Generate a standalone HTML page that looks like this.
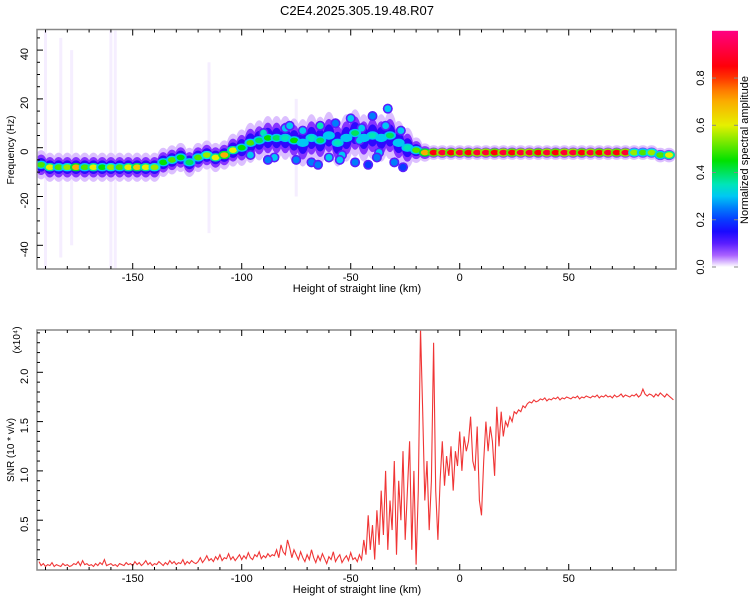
<!DOCTYPE html>
<html><head><meta charset="utf-8"><style>
body{margin:0;background:#fff;width:750px;height:600px;overflow:hidden;font-family:"Liberation Sans",sans-serif}
svg text{font-family:"Liberation Sans",sans-serif;fill:#000}
</style></head><body>
<svg id="c" width="750" height="600" xmlns="http://www.w3.org/2000/svg"></svg>
<script>
// ---- data ----
const title = "C2E4.2025.305.19.48.R07";
const xTicks = [-150,-100,-50,0,50];
const fTicks = [40,20,0,-20,-40];
const sTicks = [0.5,1.0,1.5,2.0];
const cTicks = [0.0,0.2,0.4,0.6,0.8];
const ridgeH = [-192,-188,-184,-180,-176,-172,-168,-164,-160,-156,-152,-148,-144,-140,-136,-132,-128,-124,-120,-116,-112,-108,-104,-100,-96,-92,-88,-84,-80,-76,-72,-68,-64,-60,-56,-52,-48,-44,-40,-36,-32,-28,-24,-20,-16,-12,-8,-4,0,4,8,12,16,20,24,28,32,36,40,44,48,52,56,60,64,68,72,76,80,84,88,92,96];
const ridgeF = [-7,-8,-8,-8,-8,-8,-8,-8,-8,-8,-8,-8,-8,-8,-6,-5,-4,-6,-4,-3,-4,-3,-1,0,2,3,4,4,4,3,2,4,3,5,2,4,6,4,5,4,5,2,0,-1,-2,-2,-2,-2,-2,-2,-2,-2,-2,-2,-2,-2,-2,-2,-2,-2,-2,-2,-2,-2,-2,-2,-2,-2,-2,-2,-2,-3,-3];
const ridgeA = [0.5,0.6,0.5,0.55,0.7,0.5,0.6,0.45,0.55,0.5,0.6,0.65,0.6,0.55,0.45,0.5,0.45,0.4,0.5,0.55,0.6,0.7,0.6,0.45,0.5,0.4,0.45,0.4,0.35,0.45,0.3,0.35,0.4,0.3,0.35,0.3,0.4,0.3,0.35,0.3,0.4,0.3,0.35,0.5,0.7,0.85,0.9,0.85,0.9,0.85,0.9,0.9,0.85,0.9,0.85,0.9,0.9,0.85,0.9,0.85,0.9,0.9,0.85,0.9,0.85,0.9,0.85,0.9,0.55,0.5,0.55,0.5,0.6];
const ridgeS = [4,4,4,4,4,4,4,4,4,4,4,4,4,4,4,4,4,4,4,4,4,4,4.5,5,5.5,5.5,6,6,6,6,6.5,6.5,6.5,6.5,6.5,6.5,6.5,6.5,6.5,6.5,6.5,6,5.5,3.5,2.5,2,2,2,2,2,2,2,2,2,2,2,2,2,2,2,2,2,2,2,2,2,2,2,2,2,2,2,2];
const extraH = [-96,-90,-85,-80,-75,-72,-68,-64,-60,-57,-54,-50,-48,-45,-42,-40,-37,-34,-33,-30,-27,-26,-55,-65,-78,-88,-46,-38];
const extraF = [-3,6,-4,8,-5,7,-6,9,-4,10,-3,12,-6,8,-7,13,-2,9,16,-6,7,-8,-5,-7,9,-5,3,-4];
const extraA = [0.3,0.35,0.3,0.3,0.25,0.3,0.25,0.35,0.3,0.25,0.3,0.3,0.25,0.3,0.2,0.25,0.3,0.3,0.3,0.25,0.3,0.2,0.3,0.25,0.3,0.25,0.3,0.25];
const speckH = [-190,-183,-178,-160,-158,-115,-75];
const speckF0 = [-50,-45,-40,-50,-50,-35,-20];
const speckF1 = [48,45,40,48,48,35,20];
const snrH0 = -193;
const snr = [0.08,0.04,0.06,0.03,0.05,0.04,0.07,0.03,0.05,0.04,0.03,0.06,0.04,0.05,0.03,0.04,0.06,0.05,0.08,0.04,0.09,0.05,0.06,0.04,0.05,0.03,0.06,0.04,0.07,0.05,0.10,0.04,0.05,0.06,0.04,0.05,0.03,0.06,0.05,0.04,0.07,0.05,0.06,0.04,0.08,0.05,0.07,0.04,0.06,0.09,0.05,0.07,0.04,0.06,0.05,0.08,0.06,0.04,0.07,0.05,0.09,0.06,0.08,0.05,0.07,0.06,0.10,0.05,0.08,0.06,0.09,0.07,0.06,
0.08,0.12,0.07,0.10,0.14,0.09,0.11,0.08,0.13,0.10,0.15,0.09,0.12,0.11,0.16,0.10,0.13,0.09,0.12,0.15,0.10,0.14,0.11,0.17,0.12,0.10,0.15,0.13,0.18,0.11,0.14,0.12,0.16,0.13,0.15,
0.14,0.20,0.12,0.25,0.18,0.15,0.30,0.22,0.12,0.20,0.15,
0.10,0.18,0.12,0.08,0.15,0.10,0.20,0.12,0.07,0.14,0.09,0.16,0.11,0.06,0.13,0.10,0.18,0.08,0.12,0.15,0.07,0.11,0.14,0.09,0.17,0.10,0.12,0.08,0.15,
0.10,0.30,0.15,0.55,0.20,0.45,0.10,0.60,0.25,0.80,
0.35,1.00,0.20,0.70,0.40,1.10,0.15,0.90,0.50,1.20,0.30,0.80,1.30,0.20,1.00,
0.05,0.80,2.45,1.60,0.70,1.10,0.40,0.90,2.30,0.80,0.30,
0.90,1.30,0.85,1.15,0.95,1.25,0.80,1.20,1.05,1.40,
1.00,1.35,1.20,1.30,1.55,1.10,1.00,1.45,0.70,0.55,
1.10,1.50,1.20,1.45,1.30,0.95,1.65,1.25,1.60,1.35,1.50,1.45,1.55,1.50,1.60,1.58,1.62,1.60,1.66,1.64,
1.68,1.70,1.69,1.72,1.70,1.71,1.73,1.72,1.74,1.71,1.73,1.72,1.74,1.73,1.75,1.72,1.74,1.73,1.75,1.74,1.73,1.75,1.74,1.76,1.73,1.75,1.74,1.76,1.75,1.74,1.76,1.75,1.77,1.74,1.76,1.75,1.77,1.75,1.76,1.74,1.77,1.75,1.76,1.78,1.75,1.77,1.76,1.75,1.77,1.76,1.78,1.75,1.77,1.83,1.78,1.76,1.78,1.77,1.75,1.78,1.76,1.79,1.77,1.75,1.78,1.76,1.74,1.72];

// ---- layout ----
const svg = document.getElementById('c');
const NS = 'http://www.w3.org/2000/svg';
const P1 = {l:37,r:676,t:29.5,b:269};
const P2 = {l:37,r:676,t:330,b:570};
const xMin=-193.9, xMax=99.2;
const X = v => P1.l + (v-xMin)/(xMax-xMin)*(P1.r-P1.l);
const YF = f => 147.7 - f*2.44;
const YS = s => 569.5 - s*98.6;
const YC = c => 267 - c*236.2;
function el(tag, attrs, parent){const e=document.createElementNS(NS,tag);for(const k in attrs)e.setAttribute(k,attrs[k]);(parent||svg).appendChild(e);return e;}
function txt(x,y,s,size,anchor,rot,parent){const t=el('text',{x:x,y:y,'font-size':size,'text-anchor':anchor||'middle'},parent);if(rot)t.setAttribute('transform','rotate(-90 '+x+' '+y+')');t.textContent=s;return t;}
const stops=[[0,[255,255,255]],[0.02,[230,210,255]],[0.06,[150,60,255]],[0.14,[30,0,255]],[0.22,[0,80,255]],[0.32,[0,230,240]],[0.45,[0,225,0]],[0.6,[230,240,0]],[0.72,[255,160,0]],[0.84,[255,0,0]],[1,[255,0,130]]];
function cmap(v){for(let i=1;i<stops.length;i++){if(v<=stops[i][0]){const a=stops[i-1],b=stops[i],t=(v-a[0])/(b[0]-a[0]);return 'rgb('+a[1].map((c,j)=>Math.round(c+(b[1][j]-c)*t)).join(',')+')';}}return 'rgb(255,0,130)';}

// title
const tt = txt(357,15,title,13);



// ---- top spectrogram ----
const clip = el('clipPath',{id:'cp1'}); el('rect',{x:P1.l,y:P1.t,width:P1.r-P1.l,height:P1.b-P1.t},clip);
const g1 = el('g',{'clip-path':'url(#cp1)'});


speckH.forEach((h,i)=>{
  const r = el('rect',{x:X(h)-1.5,y:YF(speckF1[i]),width:3,height:YF(speckF0[i])-YF(speckF1[i]),fill:'rgb(225,205,255)',opacity:0.35},g1);
  
  
});
const layers=[[1.5,0.025,5],[1.05,0.07,4],[0.7,0.13,3.5]];
layers.forEach(L=>{
  ridgeH.forEach((h,i)=>{
    const e=el('ellipse',{cx:X(h),cy:YF(ridgeF[i]),rx:L[2]+2,ry:ridgeS[i]*L[0]*2.44,fill:cmap(L[1])},g1);
    
    
  });
});
extraH.forEach((h,i)=>{
  const e=el('ellipse',{cx:X(h),cy:YF(extraF[i]),rx:5,ry:5,fill:cmap(0.1)},g1);
  
  
  const c=el('circle',{cx:X(h),cy:YF(extraF[i]),r:3.4,fill:cmap(extraA[i])},g1);
  
  
});
ridgeH.forEach((h,i)=>{
  const a=ridgeA[i];
  const c1=el('ellipse',{cx:X(h),cy:YF(ridgeF[i]),rx:6,ry:4.2,fill:cmap(Math.max(0.3,a*0.6))},g1);
  
  
  const c2=el('ellipse',{cx:X(h),cy:YF(ridgeF[i]),rx:4,ry:2.8,fill:cmap(a)},g1);
  
  
});

function frame(P,name){
  const r=el('rect',{x:P.l,y:P.t,width:P.r-P.l,height:P.b-P.t,fill:'none',stroke:'#888','stroke-width':1.5});
  
  
}
function xAxis(P){
  for(let v=-190;v<=90;v+=10){
    const len = v%50===0?6:3;
    el('line',{x1:X(v),x2:X(v),y1:P.b,y2:P.b-len,stroke:'#000','stroke-width':1});
    el('line',{x1:X(v),x2:X(v),y1:P.t,y2:P.t+len,stroke:'#000','stroke-width':1});
  }
  xTicks.forEach(v=>{const t=txt(X(v),P.b+12,String(v),11);});
  const t=txt(357,P.b+23,'Height of straight line (km)',11);
  
  
}
frame(P1,'top-plot-frame');
xAxis(P1);
for(let f=-45;f<=45;f+=5){
  const len=f%20===0?6:3;
  el('line',{x1:P1.l,x2:P1.l+len,y1:YF(f),y2:YF(f),stroke:'#000','stroke-width':1});
}
fTicks.forEach(f=>{const t=txt(28,YF(f)+4,String(f),11,'middle',true);});
const yt1=txt(14,150,'Frequency (Hz)',10,'middle',true);



// ---- colorbar ----
const defs=el('defs',{});
const lg=el('linearGradient',{id:'cg',x1:0,y1:1,x2:0,y2:0},defs);
for(let i=0;i<=20;i++){el('stop',{offset:i/20,'stop-color':cmap(i/20)},lg);}
const cb=el('rect',{x:712,y:YC(1),width:26,height:YC(0)-YC(1),fill:'url(#cg)'});


cTicks.forEach(c=>{
  el('line',{x1:712,x2:716,y1:YC(c),y2:YC(c),stroke:'#888'});
  el('line',{x1:734,x2:738,y1:YC(c),y2:YC(c),stroke:'#888'});
  const t=txt(704,YC(c),c.toFixed(1),11,'middle',true);
  
  
});
const ct=txt(748,150,'Normalized spectral amplitude',11,'middle',true);



// ---- bottom SNR ----
const clip2 = el('clipPath',{id:'cp2'}); el('rect',{x:P2.l,y:P2.t,width:P2.r-P2.l,height:P2.b-P2.t},clip2);
let d='';
snr.forEach((v,i)=>{d+=(i?'L':'M')+X(snrH0+i).toFixed(1)+' '+YS(v).toFixed(1);});
const ln=el('path',{d:d,fill:'none',stroke:'#f03535','stroke-width':1.1,'clip-path':'url(#cp2)'});


frame(P2,'bottom-plot-frame');
xAxis(P2);
for(let k=1;k<=24;k++){
  const s=k/10, len=k%5===0?6:3;
  el('line',{x1:P2.l,x2:P2.l+len,y1:YS(s),y2:YS(s),stroke:'#000','stroke-width':1});
}
sTicks.forEach(s=>{const t=txt(28,YS(s)+4,s.toFixed(1),11,'middle',true);});
const yt2=txt(14,450,'SNR (10 * v/v)',10,'middle',true);


const ex=txt(20,340,'(x10\u2074)',10,'middle',true);


</script>
</body></html>
